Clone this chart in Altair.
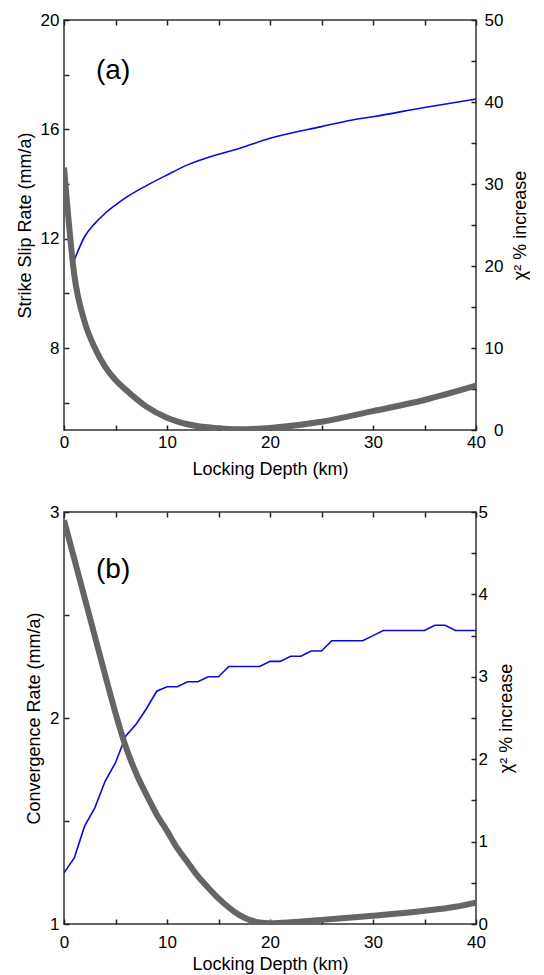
import altair as alt
import pandas as pd

FONT = "Liberation Sans"

# ---------------- Panel (a) ----------------
a_rate_depth = [1, 2, 3, 4, 5, 6, 8, 10, 12, 15, 17, 20, 25, 28, 30, 35, 40]
a_rate = [11.22, 12.07, 12.56, 12.93, 13.23, 13.5, 13.94, 14.33, 14.7, 15.09,
          15.3, 15.67, 16.1, 16.34, 16.46, 16.8, 17.11]
a_chi_depth = [0, 1, 2, 3, 4, 5, 6, 8, 10, 12, 15, 17, 20, 25, 30, 35, 40]
a_chi = [32.0, 18.9, 13.2, 10.0, 7.7, 6.1, 4.9, 2.85, 1.5, 0.7, 0.2, 0.08,
         0.25, 1.0, 2.3, 3.66, 5.4]

# ---------------- Panel (b) ----------------
b_rate_depth = list(range(0, 41))
b_rate = [1.248, 1.321, 1.475, 1.565, 1.694, 1.783, 1.913, 1.97, 2.045, 2.13,
          2.152, 2.152, 2.176, 2.176, 2.2, 2.2, 2.25, 2.25, 2.25, 2.25,
          2.275, 2.275, 2.3, 2.3, 2.325, 2.325, 2.375, 2.375, 2.375, 2.375,
          2.4, 2.425, 2.425, 2.425, 2.425, 2.425, 2.45, 2.45, 2.425, 2.425, 2.425]
b_chi_depth = [0, 1, 2, 3, 4, 5, 6, 7, 8, 9, 10, 11, 12, 13, 14, 15, 16, 17,
               18, 19, 20, 22, 25, 30, 35, 38, 40]
b_chi = [4.9, 4.43, 3.96, 3.49, 3.02, 2.56, 2.15, 1.83, 1.57, 1.33, 1.13, 0.92,
         0.75, 0.58, 0.44, 0.31, 0.2, 0.11, 0.05, 0.02, 0.01, 0.02, 0.05, 0.1,
         0.16, 0.21, 0.26]

x_ticks = [0, 5, 10, 15, 20, 25, 30, 35, 40]
a_left_ticks = [6, 8, 10, 12, 14, 16, 18, 20]
a_right_ticks = [0, 5, 10, 15, 20, 25, 30, 35, 40, 45, 50]
b_left_ticks = [1, 1.5, 2, 2.5, 3]
b_right_ticks = [0, 0.5, 1, 1.5, 2, 2.5, 3, 3.5, 4, 4.5, 5]

X_TITLE = "Locking Depth (km)"
CHI_TITLE = "χ² % increase"


def axis(orient, values, step, title, show_labels=True, **kw):
    expr = f"datum.value % {step} == 0 ? format(datum.value, 'd') : ''"
    base = dict(orient=orient, values=values, labelExpr=expr, title=title,
                domain=False, grid=False, ticks=True, tickSize=5,
                tickColor="#222222", tickWidth=1.5, offset=-5,
                labelFont=FONT, labelFontSize=17, labelColor="black",
                titleFont=FONT, titleFontSize=18, titleFontWeight="normal",
                titleColor="black", labelOverlap=False, labelFlush=False,
                labels=show_labels)
    base.update(kw)
    return alt.Axis(**base)


def panel(rate_depth, rate, chi_depth, chi, left_title, left_dom, left_ticks,
          left_step, right_dom, right_ticks, right_step, tag, tag_y, height,
          right_label_kw, x_label_kw):
    xs = alt.Scale(domain=[0, 40], nice=False, zero=False)
    df_rate = pd.DataFrame({"depth": rate_depth, "rate": rate})
    df_chi = pd.DataFrame({"depth": chi_depth, "chi": chi})
    blue = alt.Chart(df_rate).mark_line(
        color="#0a0ad8", strokeWidth=1.6, clip=True,
        interpolate="monotone" if tag == "(a)" else "linear"
    ).encode(
        x=alt.X("depth:Q", scale=xs,
                axis=axis("bottom", x_ticks, 10, X_TITLE, **x_label_kw)),
        y=alt.Y("rate:Q", scale=alt.Scale(domain=left_dom, nice=False, zero=False),
                axis=axis("left", left_ticks, left_step, left_title,
                          labelPadding=5, titlePadding=6)),
    )
    gray = alt.Chart(df_chi).mark_line(
        color="#656565", strokeWidth=6, clip=True, strokeCap="butt",
        interpolate="monotone"
    ).encode(
        x=alt.X("depth:Q", scale=xs,
                axis=axis("top", x_ticks, 10, "", show_labels=False)),
        y=alt.Y("chi:Q", scale=alt.Scale(domain=right_dom, nice=False, zero=False),
                axis=axis("right", right_ticks, right_step, CHI_TITLE,
                          titleAngle=270, titleBaseline="top", **right_label_kw)),
    )
    label = alt.Chart(pd.DataFrame({"t": [tag]})).mark_text(
        font=FONT, fontSize=28, align="left", baseline="middle", color="black"
    ).encode(text="t:N", x=alt.value(32), y=alt.value(tag_y))
    return alt.layer(blue, gray, label).resolve_scale(
        y="independent").resolve_axis(x="independent").properties(
        width=412, height=height)


top = panel(a_rate_depth, a_rate, a_chi_depth, a_chi, "Strike Slip Rate (mm/a)",
            [5, 20], a_left_ticks, 4, [0, 50], a_right_ticks, 10, "(a)", 51, 410,
            dict(labelAlign="right", labelPadding=27, titlePadding=8),
            dict(labelPadding=4, titlePadding=10))
bottom = panel(b_rate_depth, b_rate, b_chi_depth, b_chi, "Convergence Rate (mm/a)",
               [1, 3], b_left_ticks, 1, [0, 5], b_right_ticks, 1, "(b)", 58, 412,
               dict(labelAlign="left", labelPadding=2, titlePadding=10),
               dict(labelPadding=10, titlePadding=5))

chart = alt.vconcat(top, bottom, spacing=23).configure_view(
    stroke="#333333", strokeWidth=1.5
).properties(
    padding={"left": 7, "top": 2, "right": 0, "bottom": 0},
    background="white",
)

chart.save("out.html", embed_options={"renderer": "svg", "actions": False})
